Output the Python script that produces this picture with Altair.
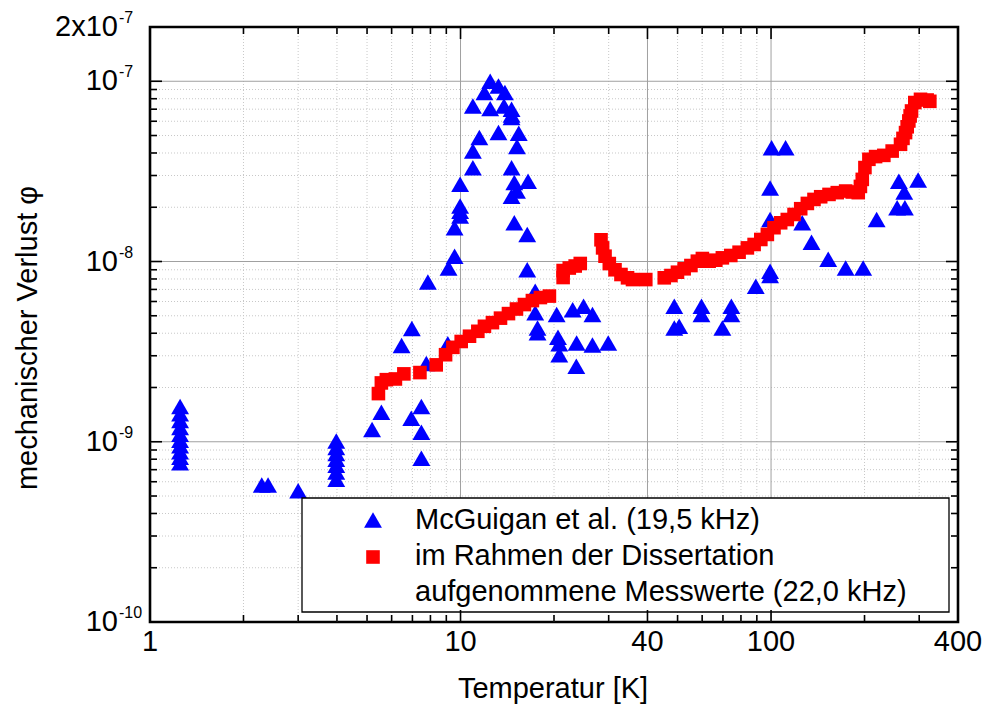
import altair as alt
import pandas as pd

FONT = "Liberation Sans, Arial, Helvetica, sans-serif"

# ---------------- data ----------------
# McGuigan et al. (19,5 kHz)  -> blue triangles
mcg_T = [
    1.25, 1.25, 1.25, 1.25, 1.25, 1.25, 1.25, 1.25, 1.25, 1.25,
    2.29, 2.40, 3.0,
    3.98, 3.98, 3.98, 3.98, 3.98, 3.98, 3.98,
    5.19, 5.56, 6.46, 6.97, 6.94, 7.48, 7.48, 7.48, 7.76, 7.85,
    9.15, 9.1, 9.57, 9.57, 9.97, 9.97, 9.97, 9.97,
    10.96, 10.96, 11.5, 10.96, 11.94, 12.46, 12.46, 13.25, 13.25, 13.9, 13.8,
    14.6, 14.6, 14.6, 14.6, 14.6, 14.9, 14.9, 15.2, 15.2, 15.4,
    16.5, 16.4, 16.4, 17.4, 17.4, 17.7, 17.7,
    20.4, 22.97, 24.9, 26.6, 20.6, 20.8, 20.8, 23.65, 26.6, 29.9, 23.6,
    48.8, 48.8, 50.6, 59.7, 59.7, 69.7, 74.5, 74.5, 89.3,
    99.3, 99.3, 99.3, 99.3, 100.4, 111.4, 126, 135, 152.8, 173.9, 198,
    218.8, 254.7, 269.8, 258, 268.5, 297.6,
]
mcg_phi = [
    1.57e-9, 1.43e-9, 1.31e-9, 1.2e-9, 1.1e-9, 1.02e-9, 0.95e-9, 0.88e-9, 0.82e-9, 0.765e-9,
    5.75e-10, 5.75e-10, 5.35e-10,
    1.01e-9, 0.93e-9, 0.86e-9, 0.8e-9, 0.74e-9, 0.68e-9, 0.62e-9,
    1.17e-9, 1.46e-9, 3.42e-9, 4.25e-9, 1.35e-9, 1.57e-9, 1.13e-9, 8.1e-10, 2.72e-9, 7.7e-9,
    9.2e-9, 3.5e-9, 1.07e-8, 1.54e-8, 1.79e-8, 1.9e-8, 2.03e-8, 2.68e-8,
    3.31e-8, 4.1e-8, 4.87e-8, 7.3e-8, 8.65e-8, 1.0e-7, 7.05e-8, 9.4e-8, 5.2e-8, 8.65e-8, 7.3e-8,
    6.99e-8, 6.5e-8, 6.3e-8, 3.31e-8, 2.3e-8, 2.74e-8, 1.64e-8, 4.34e-8, 2.46e-8, 5.15e-8,
    2.79e-8, 1.41e-8, 9.0e-9, 6.85e-9, 5.19e-9, 4.28e-9, 4.02e-9,
    5.08e-9, 5.4e-9, 5.65e-9, 5.08e-9, 3.8e-9, 3.5e-9, 3.04e-9, 3.53e-9, 3.44e-9, 3.53e-9, 2.62e-9,
    5.65e-9, 4.28e-9, 4.37e-9, 5.65e-9, 5.08e-9, 4.28e-9, 5.65e-9, 5.08e-9, 7.3e-9,
    8.83e-9, 8.36e-9, 1.71e-8, 2.56e-8, 4.28e-8, 4.28e-8, 1.64e-8, 1.28e-8, 1.03e-8, 9.2e-9, 9.2e-9,
    1.71e-8, 1.99e-8, 1.99e-8, 2.79e-8, 2.43e-8, 2.83e-8,
]

# Messwerte der Dissertation (22,0 kHz) -> red squares
diss_T = [
    5.44, 5.56, 5.77, 6.17, 6.57, 7.40, 8.35, 8.95, 9.45, 10.05, 10.69, 11.37, 11.94,
    12.67, 13.45, 14.27, 15.14, 16.06, 17.04, 18.08, 19.33,
    21.4, 21.4, 22.4, 23.4, 24.3,
    28.34, 28.68, 29.2, 30.14, 31.44, 32.86, 34.5, 35.8, 39.5,
    45.3, 47.6, 49.96, 52.5, 55.2, 57.9, 60.1, 63.2, 66.4, 69.7, 74.2, 78.9, 83.9, 88.2,
    92.7, 97.3, 102.2, 107.4, 112.8, 118.6, 124.6, 130.9, 137.5, 144.5, 153.7, 163.4,
    173.9, 182.6, 190.9, 194, 196.7, 200.6, 206.6, 217.1, 230.8, 245.5, 261.2, 266,
    271.1, 274.4, 277.8, 280.5, 283.4, 290.4, 302.9, 318.2, 324.6,
]
diss_phi = [
    1.85e-9, 2.12e-9, 2.21e-9, 2.23e-9, 2.38e-9, 2.42e-9, 2.67e-9, 3.04e-9, 3.34e-9, 3.6e-9, 3.85e-9, 4.1e-9, 4.37e-9,
    4.58e-9, 4.85e-9, 5.14e-9, 5.45e-9, 5.77e-9, 6.07e-9, 6.31e-9, 6.43e-9,
    8.15e-9, 8.91e-9, 9.2e-9, 9.44e-9, 9.75e-9,
    1.32e-8, 1.19e-8, 1.07e-8, 9.74e-9, 9.0e-9, 8.47e-9, 8.12e-9, 7.94e-9, 7.94e-9,
    8.12e-9, 8.36e-9, 8.72e-9, 9.11e-9, 9.5e-9, 1.004e-8, 1.039e-8, 1.004e-8, 1.017e-8, 1.048e-8, 1.08e-8, 1.126e-8, 1.19e-8, 1.243e-8,
    1.325e-8, 1.413e-8, 1.54e-8, 1.64e-8, 1.71e-8, 1.824e-8, 1.963e-8, 2.1e-8, 2.21e-8, 2.287e-8, 2.356e-8, 2.41e-8,
    2.46e-8, 2.43e-8, 2.41e-8, 2.61e-8, 2.855e-8, 3.32e-8, 3.69e-8, 3.82e-8, 3.88e-8, 4.1e-8, 4.47e-8, 4.82e-8,
    5.19e-8, 5.59e-8, 6.02e-8, 6.42e-8, 6.84e-8, 7.62e-8, 7.94e-8, 7.87e-8, 7.74e-8,
]

x_label_values = [1, 10, 40, 100, 400]
x_label_text = ["1", "10", "40", "100", "400"]
y_label_values = [1e-10, 1e-9, 1e-8, 1e-7, 2e-7]
y_label_base = ["10", "10", "10", "10", "2x10"]
y_label_exp = ["-10", "-9", "-8", "-7", "-7"]

x_major = [10, 40, 100]
x_minor = [2, 3, 4, 5, 6, 7, 8, 9, 20, 30, 50, 60, 70, 80, 90, 200, 300]
y_major = [1e-9, 1e-8, 1e-7]
y_minor = [k * 10.0 ** e for e in (-10, -9, -8) for k in range(2, 10)]

x_title = "Temperatur [K]"
y_title = "mechanischer Verlust φ"
legend_labels = [
    "McGuigan et al. (19,5 kHz)",
    "im Rahmen der Dissertation",
    "aufgenommene Messwerte (22,0 kHz)",
]

# ---------------- chart ----------------
W, H = 808, 595
BLUE = "#0000ff"
RED = "#ff0000"
TRI_SIZE = 320
SQ_SIZE = 185
FS = 29

xs = alt.Scale(type="log", domain=[1, 400], nice=False)
ys = alt.Scale(type="log", domain=[1e-10, 2e-7], nice=False)

df_m = pd.DataFrame({"T": mcg_T, "phi": mcg_phi})
df_d = pd.DataFrame({"T": diss_T, "phi": diss_phi})
one = pd.DataFrame({"a": [0]})


def vrules(vals, color, dash, width=1):
    kw = dict(color=color, strokeWidth=width)
    if dash:
        kw["strokeDash"] = dash
    return alt.Chart(pd.DataFrame({"v": vals})).mark_rule(**kw).encode(
        x=alt.X("v:Q", scale=xs, axis=None))


def hrules(vals, color, dash, width=1):
    kw = dict(color=color, strokeWidth=width)
    if dash:
        kw["strokeDash"] = dash
    return alt.Chart(pd.DataFrame({"v": vals})).mark_rule(**kw).encode(
        y=alt.Y("v:Q", scale=ys, axis=None))


grid_layers = [
    vrules(x_minor, "#c8c8c8", [1, 2]),
    hrules(y_minor, "#c8c8c8", [1, 2]),
    vrules(x_major, "#a0a0a0", None),
    hrules(y_major, "#a0a0a0", None),
]

blue = alt.Chart(df_m).mark_point(
    shape="triangle-up", filled=True, size=TRI_SIZE, color=BLUE, opacity=1
).encode(
    x=alt.X("T:Q", scale=xs, axis=None),
    y=alt.Y("phi:Q", scale=ys, axis=None),
)

red = alt.Chart(df_d).mark_square(size=SQ_SIZE, color=RED, opacity=1).encode(
    x=alt.X("T:Q", scale=xs, axis=None),
    y=alt.Y("phi:Q", scale=ys, axis=None),
)

# legend (drawn by hand, like the Origin legend box)
leg_box = alt.Chart(one).mark_rect(fill="white", stroke="black", strokeWidth=1.3).encode(
    x=alt.value(152), x2=alt.value(799), y=alt.value(471), y2=alt.value(585))
leg_tri = alt.Chart(one).mark_point(shape="triangle-up", filled=True, size=TRI_SIZE, color=BLUE, opacity=1).encode(
    x=alt.value(223), y=alt.value(493))
leg_sq = alt.Chart(one).mark_square(size=SQ_SIZE, color=RED, opacity=1).encode(
    x=alt.value(223), y=alt.value(530))
leg_texts = [
    alt.Chart(one).mark_text(align="left", baseline="middle", font=FONT, fontSize=FS, color="black",
                             text=lab).encode(x=alt.value(265), y=alt.value(yy))
    for lab, yy in zip(legend_labels, [493, 528.5, 565])
]


def xticks(vals, L, top):
    return alt.Chart(pd.DataFrame({"v": vals})).mark_rule(color="black", strokeWidth=1.6).encode(
        x=alt.X("v:Q", scale=xs, axis=None),
        y=alt.value(0 if top else H), y2=alt.value(L if top else H - L))


def yticks(vals, L, right):
    return alt.Chart(pd.DataFrame({"v": vals})).mark_rule(color="black", strokeWidth=1.6).encode(
        y=alt.Y("v:Q", scale=ys, axis=None),
        x=alt.value(W if right else 0), x2=alt.value(W - L if right else L))


tick_layers = [
    xticks(x_major, 12, False), xticks(x_minor, 7, False),
    xticks(x_major, 12, True), xticks(x_minor, 7, True),
    yticks(y_major, 12, False), yticks(y_minor, 7, False),
    yticks(y_major, 12, True), yticks(y_minor, 7, True),
]

# axis labels (tick values placed through the scales)
xlab_df = pd.DataFrame({"v": x_label_values, "t": x_label_text})
xlab = alt.Chart(xlab_df).mark_text(
    align="center", baseline="middle", font=FONT, fontSize=FS, color="black"
).encode(x=alt.X("v:Q", scale=xs, axis=None), y=alt.value(H + 20), text="t:N")

ylab_df = pd.DataFrame({"v": y_label_values, "base": y_label_base, "exp": y_label_exp})
ylab_base = alt.Chart(ylab_df).mark_text(
    align="right", baseline="middle", font=FONT, fontSize=FS, color="black"
).encode(x=alt.value(-32), y=alt.Y("v:Q", scale=ys, axis=None), text="base:N")
ylab_exp = alt.Chart(ylab_df).mark_text(
    align="left", baseline="alphabetic", font=FONT, fontSize=16, color="black", dy=-4
).encode(x=alt.value(-31), y=alt.Y("v:Q", scale=ys, axis=None), text="exp:N")

# axis titles
xtitle = alt.Chart(one).mark_text(
    align="center", baseline="middle", font=FONT, fontSize=FS, color="black", text=x_title
).encode(x=alt.value(403), y=alt.value(662))
ytitle = alt.Chart(one).mark_text(
    align="center", baseline="middle", font=FONT, fontSize=FS, color="black", text=y_title, angle=270
).encode(x=alt.value(-122), y=alt.value(311))

chart = alt.layer(
    *grid_layers, blue, red, leg_box, leg_tri, leg_sq, *leg_texts, *tick_layers,
    xlab, ylab_base, ylab_exp, xtitle, ytitle
).properties(
    width=W, height=H,
    autosize=alt.AutoSizeParams(type="none"),
    padding={"left": 150, "top": 27, "right": 26, "bottom": 94},
    background="white",
).configure_view(stroke="black", strokeWidth=2.6)

chart.save("out.html", embed_options={"renderer": "svg", "actions": False})
